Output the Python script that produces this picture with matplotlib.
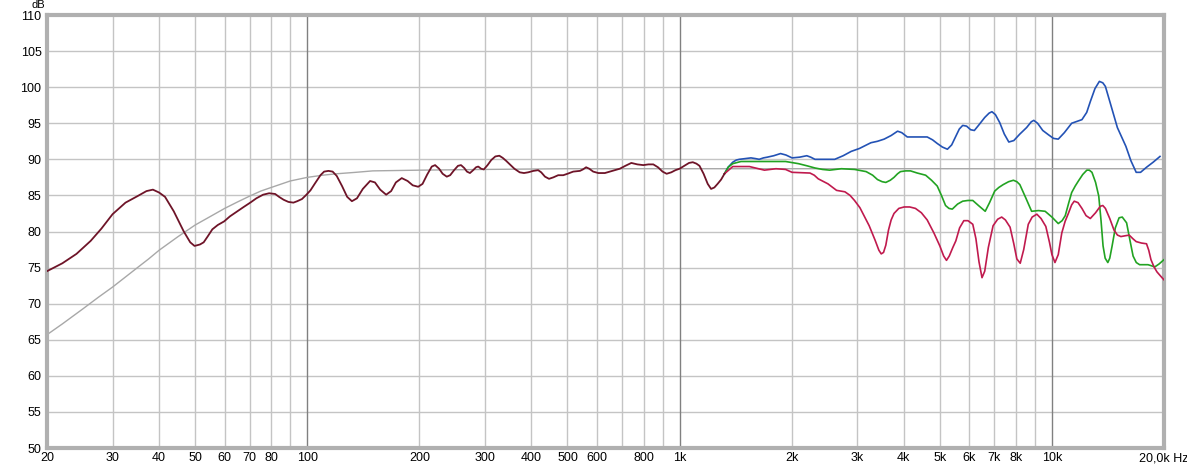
import matplotlib
matplotlib.use("Agg")
import matplotlib.pyplot as plt

# ---- data: (frequency Hz, level dB) ----
common = [(20, 74.5), (22, 75.6), (24, 76.9), (26.2, 78.7), (28, 80.4), (30, 82.4),
          (32.5, 84.0), (35, 84.9), (37, 85.6), (38.5, 85.8), (40, 85.4), (41.5, 84.8),
          (43.8, 82.8), (46.6, 80.0), (48.5, 78.5), (49.8, 78.0), (51.5, 78.2), (52.7, 78.5),
          (54, 79.3), (55.6, 80.3), (57.5, 80.9), (59.8, 81.4), (62, 82.1), (64.9, 82.8),
          (67.5, 83.4), (70.3, 84.0), (73, 84.6), (76.1, 85.1), (79, 85.3), (82, 85.2),
          (84, 84.8), (86.4, 84.4), (89, 84.1), (91.8, 84.0), (94, 84.2), (96.8, 84.5),
          (99.5, 85.1), (102, 85.7), (105, 86.7), (108.5, 87.8), (111, 88.3), (114, 88.4),
          (117, 88.3), (120, 87.7), (124, 86.3), (128, 84.8), (131.8, 84.2), (136, 84.6),
          (141, 85.9), (147.5, 87.0), (152, 86.8), (157, 85.8), (162.9, 85.1), (168, 85.6),
          (173, 86.8), (179.4, 87.4), (186, 87.0), (192, 86.4), (198.6, 86.2), (204, 86.6),
          (210, 87.9), (216, 89.0), (220.5, 89.2), (226, 88.7), (231, 88.0), (237, 87.6),
          (242, 87.8), (248, 88.5), (254, 89.1), (258.8, 89.2), (264, 88.8), (268.5, 88.3),
          (273.5, 88.1), (279, 88.5), (284, 88.9), (287.9, 89.0), (293, 88.7), (298, 88.6),
          (305, 89.2), (312, 89.9), (320, 90.4), (328, 90.5), (335, 90.2), (342, 89.8),
          (350, 89.3), (360, 88.7), (372, 88.2), (382, 88.1), (392, 88.2), (405, 88.4),
          (417, 88.5), (425, 88.2), (435, 87.6), (446, 87.3), (458, 87.5), (472, 87.8),
          (487, 87.8), (500, 88.0), (518, 88.3), (540, 88.4), (550, 88.6), (561, 88.9),
          (572, 88.7), (586, 88.3), (605, 88.1), (630, 88.1), (660, 88.4), (691, 88.7),
          (715, 89.1), (742, 89.5), (770, 89.3), (799, 89.2), (825, 89.3), (850, 89.3),
          (875, 88.9), (900, 88.3), (923, 88.0), (950, 88.2), (975, 88.5), (1000, 88.7),
          (1030, 89.1), (1060, 89.5), (1085, 89.6), (1110, 89.4), (1131, 89.1), (1160, 88.0),
          (1190, 86.6), (1215, 85.9), (1240, 86.1), (1265, 86.6), (1293, 87.2), (1320, 88.0)]

blue = [(1320, 88.0), (1350, 88.9), (1389, 89.6), (1420, 89.9), (1447, 90.0), (1500, 90.1),
        (1555, 90.2), (1600, 90.1), (1636, 90.0), (1680, 90.2), (1720, 90.3), (1790, 90.5),
        (1867, 90.8), (1930, 90.6), (2005, 90.2), (2100, 90.3), (2196, 90.5), (2250, 90.3),
        (2310, 90.0), (2450, 90.0), (2610, 90.0), (2750, 90.5), (2890, 91.1), (3040, 91.5),
        (3150, 91.9), (3265, 92.3), (3400, 92.5), (3543, 92.8), (3700, 93.3), (3850, 93.9),
        (3950, 93.7), (4088, 93.1), (4350, 93.1), (4624, 93.1), (4780, 92.7), (4920, 92.2),
        (5080, 91.7), (5240, 91.4), (5380, 92.0), (5520, 93.2), (5640, 94.2), (5760, 94.7),
        (5900, 94.6), (6050, 94.1), (6190, 94.0), (6350, 94.7), (6600, 95.8), (6780, 96.4),
        (6900, 96.6), (7050, 96.2), (7240, 95.1), (7450, 93.5), (7660, 92.4), (7900, 92.6),
        (8200, 93.5), (8550, 94.4), (8800, 95.2), (8940, 95.4), (9150, 95.0), (9450, 94.0),
        (9790, 93.4), (10100, 92.9), (10400, 92.8), (10800, 93.7), (11300, 95.0), (12040, 95.5),
        (12400, 96.5), (12680, 98.0), (13050, 99.8), (13410, 100.8), (13700, 100.6),
        (13920, 100.1), (14400, 97.5), (14990, 94.4), (15800, 91.8), (16300, 89.8),
        (16840, 88.2), (17300, 88.2), (17950, 88.9), (18700, 89.6), (19510, 90.4)]

green = [(1320, 88.0), (1350, 88.9), (1389, 89.4), (1462, 89.7), (1700, 89.7), (1926, 89.7),
         (2086, 89.4), (2200, 89.1), (2310, 88.8), (2420, 88.6), (2530, 88.5), (2720, 88.7),
         (2950, 88.6), (3170, 88.3), (3300, 87.8), (3400, 87.2), (3500, 86.9), (3580, 86.8),
         (3680, 87.1), (3766, 87.5), (3850, 88.0), (3920, 88.3), (4050, 88.4), (4170, 88.4),
         (4350, 88.1), (4580, 87.8), (4750, 87.1), (4920, 86.3), (5050, 85.0), (5180, 83.6),
         (5290, 83.2), (5400, 83.1), (5580, 83.8), (5760, 84.2), (5950, 84.3), (6130, 84.3),
         (6350, 83.6), (6620, 82.8), (6800, 84.0), (7020, 85.6), (7200, 86.1), (7400, 86.5),
         (7650, 86.9), (7880, 87.1), (8050, 86.9), (8200, 86.5), (8500, 84.7), (8820, 82.8),
         (9200, 82.9), (9590, 82.8), (10000, 82.0), (10400, 81.1), (10650, 81.5), (10860, 82.2),
         (11100, 84.0), (11300, 85.4), (11550, 86.3), (11780, 87.0), (12100, 87.9),
         (12410, 88.5), (12600, 88.5), (12810, 88.2), (13100, 86.8), (13360, 84.9),
         (13550, 81.5), (13720, 78.0), (13900, 76.3), (14130, 75.7), (14300, 76.3),
         (14510, 78.0), (14800, 80.5), (15150, 81.9), (15450, 82.0), (15870, 81.2),
         (16200, 78.8), (16520, 76.6), (16850, 75.7), (17200, 75.4), (18120, 75.4),
         (18900, 75.1), (19400, 75.5), (20000, 76.1)]

red = [(1320, 88.0), (1389, 89.0), (1540, 89.0), (1690, 88.5), (1815, 88.7), (1926, 88.6),
       (2005, 88.2), (2240, 88.1), (2300, 87.8), (2357, 87.3), (2504, 86.6), (2640, 85.7),
       (2780, 85.5), (2870, 85.0), (2950, 84.3), (3050, 83.3), (3230, 80.8), (3350, 78.8),
       (3430, 77.4), (3480, 76.9), (3530, 77.1), (3580, 78.1), (3640, 80.2), (3700, 81.6),
       (3766, 82.5), (3880, 83.2), (4010, 83.4), (4150, 83.4), (4300, 83.2), (4460, 82.6),
       (4624, 81.6), (4820, 79.8), (5000, 78.0), (5120, 76.6), (5210, 76.0), (5300, 76.6),
       (5420, 77.8), (5520, 78.7), (5650, 80.5), (5800, 81.5), (5950, 81.5), (6130, 81.0),
       (6250, 79.0), (6370, 75.8), (6490, 73.6), (6600, 74.5), (6750, 77.8), (6950, 80.8),
       (7150, 81.7), (7330, 82.0), (7500, 81.6), (7720, 80.6), (7900, 78.3), (8050, 76.2),
       (8220, 75.6), (8400, 77.5), (8640, 81.0), (8850, 82.0), (9110, 82.4), (9350, 81.8),
       (9630, 80.7), (9850, 78.5), (10000, 76.8), (10190, 75.7), (10400, 76.8), (10630, 79.8),
       (10850, 81.4), (11070, 82.5), (11300, 83.7), (11480, 84.2), (11750, 84.0),
       (12040, 83.2), (12350, 82.2), (12680, 81.8), (13100, 82.6), (13490, 83.5),
       (13700, 83.6), (13920, 83.2), (14300, 81.8), (14680, 80.2), (15000, 79.5),
       (15320, 79.3), (15700, 79.4), (16130, 79.5), (16500, 79.0), (16840, 78.6),
       (17400, 78.4), (17950, 78.3), (18200, 77.4), (18450, 76.1), (18800, 75.1),
       (19150, 74.4), (19600, 73.8), (20000, 73.3)]

gray = [(20, 65.7), (22, 67.2), (25, 69.3), (27.5, 70.9), (30, 72.3), (32.5, 73.7),
        (35, 75.0), (37.5, 76.2), (40, 77.4), (45, 79.3), (50, 80.9), (55, 82.1),
        (60, 83.2), (65, 84.1), (70, 84.9), (75, 85.6), (80, 86.1), (90, 87.0),
        (100, 87.5), (110, 87.8), (120, 88.0), (135, 88.2), (150, 88.4), (200, 88.5),
        (300, 88.6), (500, 88.7), (20000, 88.7)]

grid_x = [30, 40, 50, 60, 70, 80, 90, 200, 300, 400, 500, 600, 700, 800, 900,
          2000, 3000, 4000, 5000, 6000, 7000, 8000, 9000]
decade_x = [100, 1000, 10000]
xtick_pos = [20, 30, 40, 50, 60, 70, 80, 100, 200, 300, 400, 500, 600, 800,
             1000, 2000, 3000, 4000, 5000, 6000, 7000, 8000, 10000, 20000]
xtick_lab = ["20", "30", "40", "50", "60", "70", "80", "100", "200", "300",
             "400", "500", "600", "800", "1k", "2k", "3k", "4k", "5k", "6k",
             "7k", "8k", "10k", "20,0k Hz"]
ytick_pos = list(range(50, 111, 5))


def split(series):
    return [p[0] for p in series], [p[1] for p in series]


# ---- figure ----
plt.rcParams['font.family'] = ['Liberation Sans', 'DejaVu Sans']
fig = plt.figure(figsize=(11.87, 4.70), dpi=100)
ax = fig.add_axes([47/1187, 1-448/470, (1164-47)/1187, (448-15)/470])
ax.set_xscale('log')
ax.set_xlim(20, 20000)
ax.set_ylim(50, 110)

for y in ytick_pos:
    ax.axhline(y, color='#c4c4c4', lw=1.0, zorder=1)
for x in grid_x:
    ax.axvline(x, color='#c4c4c4', lw=1.0, zorder=1)
for x in decade_x:
    ax.axvline(x, color='#808080', lw=1.0, zorder=1)

ax.plot(*split(gray), color='#a8a8a8', lw=1.0, zorder=2)
ax.plot(*split(blue), color='#2352b5', lw=1.2, zorder=3, solid_joinstyle='round')
ax.plot(*split(green), color='#22a322', lw=1.2, zorder=4, solid_joinstyle='round')
ax.plot(*split(red), color='#c01a4e', lw=1.2, zorder=5, solid_joinstyle='round')
ax.plot(*split(common), color='#6e1428', lw=1.3, zorder=6, solid_joinstyle='round')

ax.set_xticks(xtick_pos)
ax.set_xticklabels(xtick_lab)
ax.xaxis.set_minor_locator(matplotlib.ticker.NullLocator())
ax.set_yticks(ytick_pos)
ax.set_yticklabels([str(v) for v in ytick_pos])
ax.tick_params(axis='both', length=0, labelsize=9, colors='#000000')
ax.tick_params(axis='y', pad=4)
ax.tick_params(axis='x', pad=3)

for s in ax.spines.values():
    s.set_color('#b0b0b0')
    s.set_linewidth(3)

fig.text(38/1187, 1-0.5/470, 'dB', ha='center', va='top', fontsize=8)

fig.savefig('out.png', dpi=100, facecolor='white')
